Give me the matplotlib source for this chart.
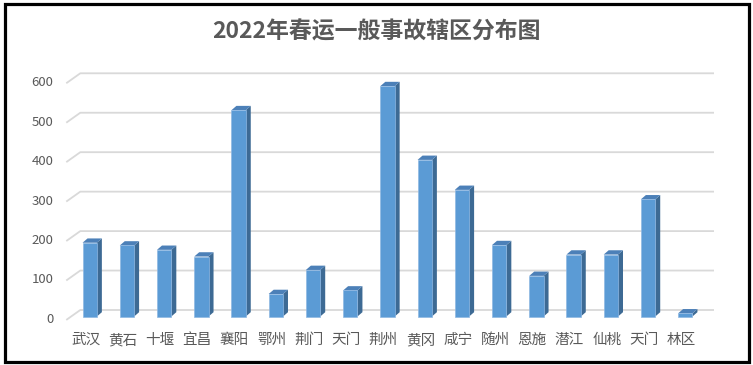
import matplotlib
matplotlib.use('Agg')
import matplotlib.pyplot as plt
from matplotlib.patches import Polygon, Rectangle

plt.rcParams['font.family'] = ['Noto Sans CJK SC', 'DejaVu Sans']

# data
title = '2022年春运一般事故辖区分布图'
regions = ['武汉', '黄石', '十堰', '宜昌', '襄阳', '鄂州', '荆门', '天门', '荆州',
           '黄冈', '咸宁', '随州', '恩施', '潜江', '仙桃', '天门', '林区']
counts = [187, 180, 169, 152, 523, 57, 118, 66, 584,
          397, 321, 181, 103, 157, 157, 297, 8]
yticks = [0, 100, 200, 300, 400, 500, 600]

# colours
c_front = '#5B9BD5'
c_side = '#3D6A94'
c_top = '#4C80B8'
c_grid = '#D9D9D9'
c_text = '#595959'

W, H = 753, 365
fig = plt.figure(figsize=(W / 100, H / 100), dpi=100)

# plot box in pixels (category -0.5..16.5, value 0..600)
left_px, right_px = 71.1, 703.9
base_px, top_px = 316.5, 79.8
ax = fig.add_axes([left_px / W, 1 - base_px / H,
                   (right_px - left_px) / W, (base_px - top_px) / H])
ax.set_xlim(-0.5, len(regions) - 0.5)
ax.set_ylim(0, 600)
ax.axis('off')

# 3d offsets in data units
bw = 0.385
bar_dx, bar_dy = 0.134, 10.9      # bar depth
back_dx, back_dy = 0.247, 16.5    # back wall relative to bar front
front_dx, front_dy = -0.11, -7.4  # front plane relative to bar front

x_first = -0.5
x_last = len(regions) - 0.5
for t in yticks:
    ax.plot([x_first + front_dx, x_first + back_dx, x_last + back_dx],
            [t + front_dy, t + back_dy, t + back_dy],
            color=c_grid, lw=1.3, clip_on=False, zorder=1)
    ax.text(-0.5 - 0.47, t + front_dy, str(t), ha='right', va='center',
            fontsize=9.5, color=c_text, clip_on=False)

for i, v in enumerate(counts):
    xr = i + bw / 2
    xl = i - bw / 2
    side = Polygon([(xr, 0), (xr + bar_dx, bar_dy), (xr + bar_dx, v + bar_dy), (xr, v)],
                   closed=True, facecolor=c_side, edgecolor='none', zorder=3, clip_on=False)
    top = Polygon([(xl, v), (xr, v), (xr + bar_dx, v + bar_dy), (xl + bar_dx, v + bar_dy)],
                  closed=True, facecolor=c_top, edgecolor='none', zorder=3, clip_on=False)
    ax.add_patch(side)
    ax.add_patch(top)

ax.bar(range(len(regions)), counts, width=bw, color=c_front,
       edgecolor='#8FB8E3', linewidth=0.5, zorder=4, clip_on=False)

for i, name in enumerate(regions):
    ax.text(i + front_dx, -60, name, ha='center', va='center',
            fontsize=10.5, color=c_text, clip_on=False)

fig.text(0.5, 1 - 32 / H, title, ha='center', va='center',
         fontsize=16.5, fontweight='bold', color=c_text)

# chart frame
fig.patches.append(Rectangle((4.5 / W, 3.5 / H), 744.5 / W, 358 / H,
                             transform=fig.transFigure, fill=False,
                             edgecolor='black', linewidth=2.3))

fig.savefig('out.png', dpi=100, facecolor='white')
